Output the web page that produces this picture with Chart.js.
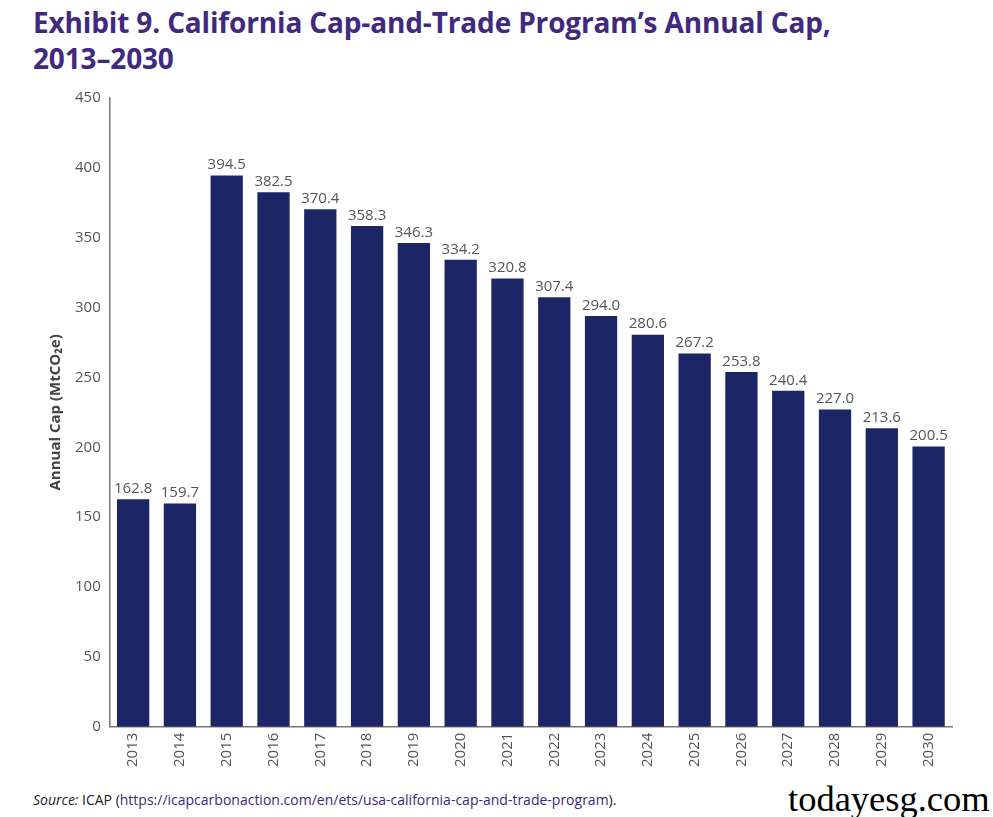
<!DOCTYPE html>
<html>
<head>
<meta charset="utf-8">
<script src="https://cdn.jsdelivr.net/npm/chart.js@4"></script>
<style>
  body { margin: 0; width: 993px; height: 817px; background: #fff; position: relative; overflow: hidden; font-family: "Open Sans", sans-serif; }
  #title { position: absolute; left: 33px; top: 4px; font-size: 28px; font-weight: bold; color: #40297e; line-height: 36px; letter-spacing: -0.15px; }
  #wrap { position: absolute; left: 0; top: 85px; width: 993px; height: 688px; }
  #source { position: absolute; left: 33px; top: 790px; font-size: 14px; color: #222; }
  #source a { color: #40297e; text-decoration: none; }
  #mark { position: absolute; left: 788px; top: 777px; font-family: "Liberation Serif", serif; font-size: 36.5px; color: #000; }
</style>
</head>
<body>
<div id="title">Exhibit 9. California Cap-and-Trade Program’s Annual Cap,<br>2013–2030</div>
<div id="wrap"><canvas id="grafico"></canvas></div>
<div id="source"><i>Source:</i> ICAP (<a>https://icapcarbonaction.com/en/ets/usa-california-cap-and-trade-program</a>).</div>
<div id="mark">todayesg.com</div>
<script>
const years = ['2013','2014','2015','2016','2017','2018','2019','2020','2021','2022','2023','2024','2025','2026','2027','2028','2029','2030'];
const annualCap = [162.8, 159.7, 394.5, 382.5, 370.4, 358.3, 346.3, 334.2, 320.8, 307.4, 294.0, 280.6, 267.2, 253.8, 240.4, 227.0, 213.6, 200.5];
const yTicks = [0, 50, 100, 150, 200, 250, 300, 350, 400, 450];

// etiquetas encima de cada barra
const valueLabels = {
    id: 'valueLabels',
    afterDatasetsDraw(chart) {
        const c = chart.ctx;
        const meta = chart.getDatasetMeta(0);
        c.save();
        c.font = '15px "Open Sans", sans-serif';
        c.fillStyle = '#555';
        c.textAlign = 'center';
        c.textBaseline = 'bottom';
        meta.data.forEach((bar, i) => {
            c.fillText(annualCap[i].toFixed(1), bar.x, bar.y - 3);
        });
        c.restore();
    }
};

let ctx = document.getElementById('grafico');

Chart.defaults.font.family = '"Open Sans", sans-serif';

new Chart(ctx.getContext('2d'), {
    type: 'bar',
    data: {
        labels: years,
        datasets: [{
            data: annualCap,
            backgroundColor: '#1c2667',
            categoryPercentage: 1,
            barPercentage: 0.69
        }]
    },
    options: {
        responsive: true,
        maintainAspectRatio: false,
        animation: false,
        layout: { padding: { top: 6, right: 41, left: 43, bottom: 0 } },
        plugins: { legend: { display: false }, tooltip: { enabled: false } },
        scales: {
            x: {
                grid: { display: false, drawTicks: false },
                border: { color: '#777', width: 1.5 },
                ticks: { color: '#555', font: { size: 15 }, maxRotation: 90, minRotation: 90, padding: 6 }
            },
            y: {
                min: 0,
                max: 450,
                afterBuildTicks: (axis) => { axis.ticks = yTicks.map(v => ({ value: v })); },
                grid: { display: false, drawOnChartArea: false, drawTicks: true, tickLength: 5, color: '#777' },
                border: { color: '#777', width: 1.5 },
                ticks: { color: '#555', font: { size: 15 }, padding: 4 },
                title: { display: true, text: 'Annual Cap (MtCO₂e)', color: '#444', font: { size: 15, weight: 'bold' }, padding: { bottom: 6 } }
            }
        }
    },
    plugins: [valueLabels]
});
</script>
</body>
</html>
